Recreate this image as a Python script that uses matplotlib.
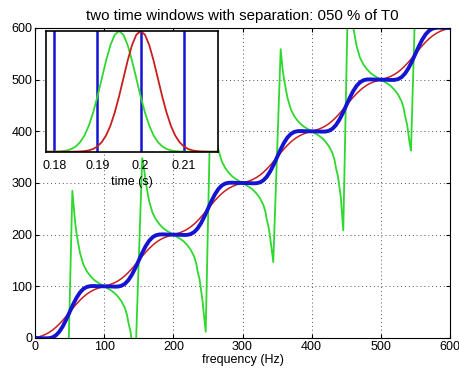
import numpy as np
import matplotlib
matplotlib.use('Agg')
import matplotlib.pyplot as plt

plt.rcParams['font.family'] = ['Liberation Sans', 'DejaVu Sans']
plt.rcParams['font.size'] = 9

# main panel: frequency axis sampled every 5 Hz
freq = np.arange(0, 605, 5)

red_vals = [0, 1.9, 4.1, 6.9, 10.5, 15, 20.5, 26.9, 34.1, 41.9, 50, 58.1, 65.9, 73.1, 79.5, 85, 89.5, 93.1, 95.9, 98.1,
            100, 101.9, 104.1, 106.9, 110.5, 115, 120.5, 126.9, 134.1, 141.9, 150, 158.1, 165.9, 173.1, 179.5, 185, 189.5, 193.1, 195.9, 198.1,
            200, 201.9, 204.1, 206.9, 210.5, 215, 220.5, 226.9, 234.1, 241.9, 250, 258.1, 265.9, 273.1, 279.5, 285, 289.5, 293.1, 295.9, 298.1,
            300, 301.9, 304.1, 306.9, 310.5, 315, 320.5, 326.9, 334.1, 341.9, 350, 358.1, 365.9, 373.1, 379.5, 385, 389.5, 393.1, 395.9, 398.1,
            400, 401.9, 404.1, 406.9, 410.5, 415, 420.5, 426.9, 434.1, 441.9, 450, 458.1, 465.9, 473.1, 479.5, 485, 489.5, 493.1, 495.9, 498.1,
            500, 501.9, 504.1, 506.9, 510.5, 515, 520.5, 526.9, 534.1, 541.9, 550, 558.1, 565.9, 573.1, 579.5, 585, 589.5, 593.1, 595.9, 598.1,
            600]

blue_vals = [0, -0.1, -0.3, -0.6, -0.4, 1.1, 4.9, 11.9, 22.2, 35.3, 50, 64.7, 77.8, 88.1, 95.1, 98.9, 100.4, 100.6, 100.3, 100.1,
             100, 99.9, 99.7, 99.4, 99.6, 101.1, 104.9, 111.9, 122.2, 135.3, 150, 164.7, 177.8, 188.1, 195.1, 198.9, 200.4, 200.6, 200.3, 200.1,
             200, 199.9, 199.7, 199.4, 199.6, 201.1, 204.9, 211.9, 222.2, 235.3, 250, 264.7, 277.8, 288.1, 295.1, 298.9, 300.4, 300.6, 300.3, 300.1,
             300, 299.9, 299.7, 299.4, 299.6, 301.1, 304.9, 311.9, 322.2, 335.3, 350, 364.7, 377.8, 388.1, 395.1, 398.9, 400.4, 400.6, 400.3, 400.1,
             400, 399.9, 399.7, 399.4, 399.6, 401.1, 404.9, 411.9, 422.2, 435.3, 450, 464.7, 477.8, 488.1, 495.1, 498.9, 500.4, 500.6, 500.3, 500.1,
             500, 499.9, 499.7, 499.4, 499.6, 501.1, 504.9, 511.9, 522.2, 535.3, 550, 564.7, 577.8, 588.1, 595.1, 598.9, 600.4, 600.6, 600.3, 600.1,
             600]

green_x = [0, 5, 10, 15, 20, 25, 30, 33, 35, 38, 40, 42, 45.5,
           54, 58, 60, 62, 65, 70, 75, 80, 85, 90, 95, 100,
           105, 110, 115, 120, 125, 130, 133, 135, 138, 140, 142, 145,
           155, 158, 160, 162, 165, 170, 175, 180, 185, 190, 195, 200,
           205, 210, 215, 220, 225, 230, 233, 235, 238, 240, 242, 246.8,
           254, 258, 260, 262, 265, 270, 275, 280, 285, 290, 295, 300,
           305, 310, 315, 320, 325, 330, 333, 335, 338, 340, 342, 344.5,
           355.2, 358, 360, 362, 365, 370, 375, 380, 385, 390, 395, 400,
           405, 410, 415, 420, 425, 430, 433, 435, 438, 440, 442, 445.7,
           453, 458, 460, 462, 465, 470, 475, 480, 485, 490, 495, 500,
           505, 510, 515, 520, 525, 530, 533, 535, 538, 540, 542, 543.6,
           553, 558, 560, 562, 565, 570, 575, 580, 585, 590, 595, 600]
green_y = [0, -4, -8, -13, -20, -29, -42, -55, -70, -87, -106, -126, -190,
           285, 224, 203, 187, 165, 142, 129, 120, 113, 108, 104, 100,
           96, 92, 87, 80, 71, 58, 45, 30, 13, -6, -26, -50,
           348, 324, 303, 287, 265, 242, 229, 220, 213, 208, 204, 200,
           196, 192, 187, 180, 171, 158, 145, 130, 113, 94, 74, 12,
           470, 424, 403, 387, 365, 342, 329, 320, 313, 308, 304, 300,
           296, 292, 287, 280, 271, 258, 245, 230, 213, 194, 174, 147,
           559, 520, 501, 487, 465, 442, 429, 420, 413, 408, 404, 400,
           396, 392, 387, 380, 371, 358, 345, 330, 313, 294, 274, 208,
           700, 624, 603, 587, 565, 542, 529, 520, 513, 508, 504, 500,
           496, 492, 487, 480, 471, 458, 445, 430, 413, 394, 374, 362.7,
           800, 724, 703, 687, 665, 642, 629, 620, 613, 608, 604, 600]

# inset: the two time windows
t = np.linspace(0.178, 0.218, 41)
win_red = [0, 0, 0, 0, 0, 0, 0, .001, .002, .005, .011, .023, .044, .080, .135, .216, .325, .458, .607, .755, .883,
           .969, 1, .969, .883, .755, .607, .458, .325, .216, .135, .080, .044, .023, .011, .005, .002, .001, 0, 0, 0]
win_green = [0, 0, .001, .002, .005, .011, .023, .044, .080, .135, .216, .325, .458, .607, .755, .883, .969, 1,
             .969, .883, .755, .607, .458, .325, .216, .135, .080, .044, .023, .011, .005, .002, .001, 0, 0, 0, 0, 0, 0, 0, 0]
periods = [0.18, 0.19, 0.2, 0.21]

c_red = '#c81e1e'
c_green = '#2ed82e'
c_blue = '#1414d2'

fig = plt.figure(figsize=(4.6, 3.76), dpi=100)
ax = fig.add_axes([35/460, 1 - 338/376, 415/460, 310/376])
ax.plot(green_x, green_y, color=c_green, lw=1.3)
ax.plot(freq, red_vals, color=c_red, lw=1.1)
ax.plot(freq, blue_vals, color=c_blue, lw=2.8)
ax.set_xlim(0, 600)
ax.set_ylim(0, 600)
ax.set_xticks(range(0, 601, 100))
ax.set_yticks(range(0, 601, 100))
ax.grid(True, linestyle=(0, (1, 3)), color='#555555', linewidth=0.7)
ax.tick_params(direction='in', top=True, right=True, length=3, pad=2)
ax.set_xlabel('frequency (Hz)', labelpad=1)
ax.set_title('two time windows with separation: 050 % of T0', pad=6)

ins = fig.add_axes([45.7/460, 1 - 151.7/376, 172.6/460, 120.7/376])
ins.set_facecolor('white')
for p in periods:
    ins.axvline(p, color=c_blue, lw=1.8)
ins.plot(t, win_green, color=c_green, lw=1.3)
ins.plot(t, win_red, color=c_red, lw=1.3)
ins.set_xlim(0.178, 0.218)
ins.set_ylim(0, 1)
ins.set_xticks(periods)
ins.set_xticklabels(['0.18', '0.19', '0.2', '0.21'])
ins.set_yticks([])
ins.tick_params(direction='in', length=0, pad=6)
for s in ins.spines.values():
    s.set_linewidth(1.2)
ins.set_xlabel('time (s)', labelpad=3)

fig.savefig('out.png', dpi=100)
